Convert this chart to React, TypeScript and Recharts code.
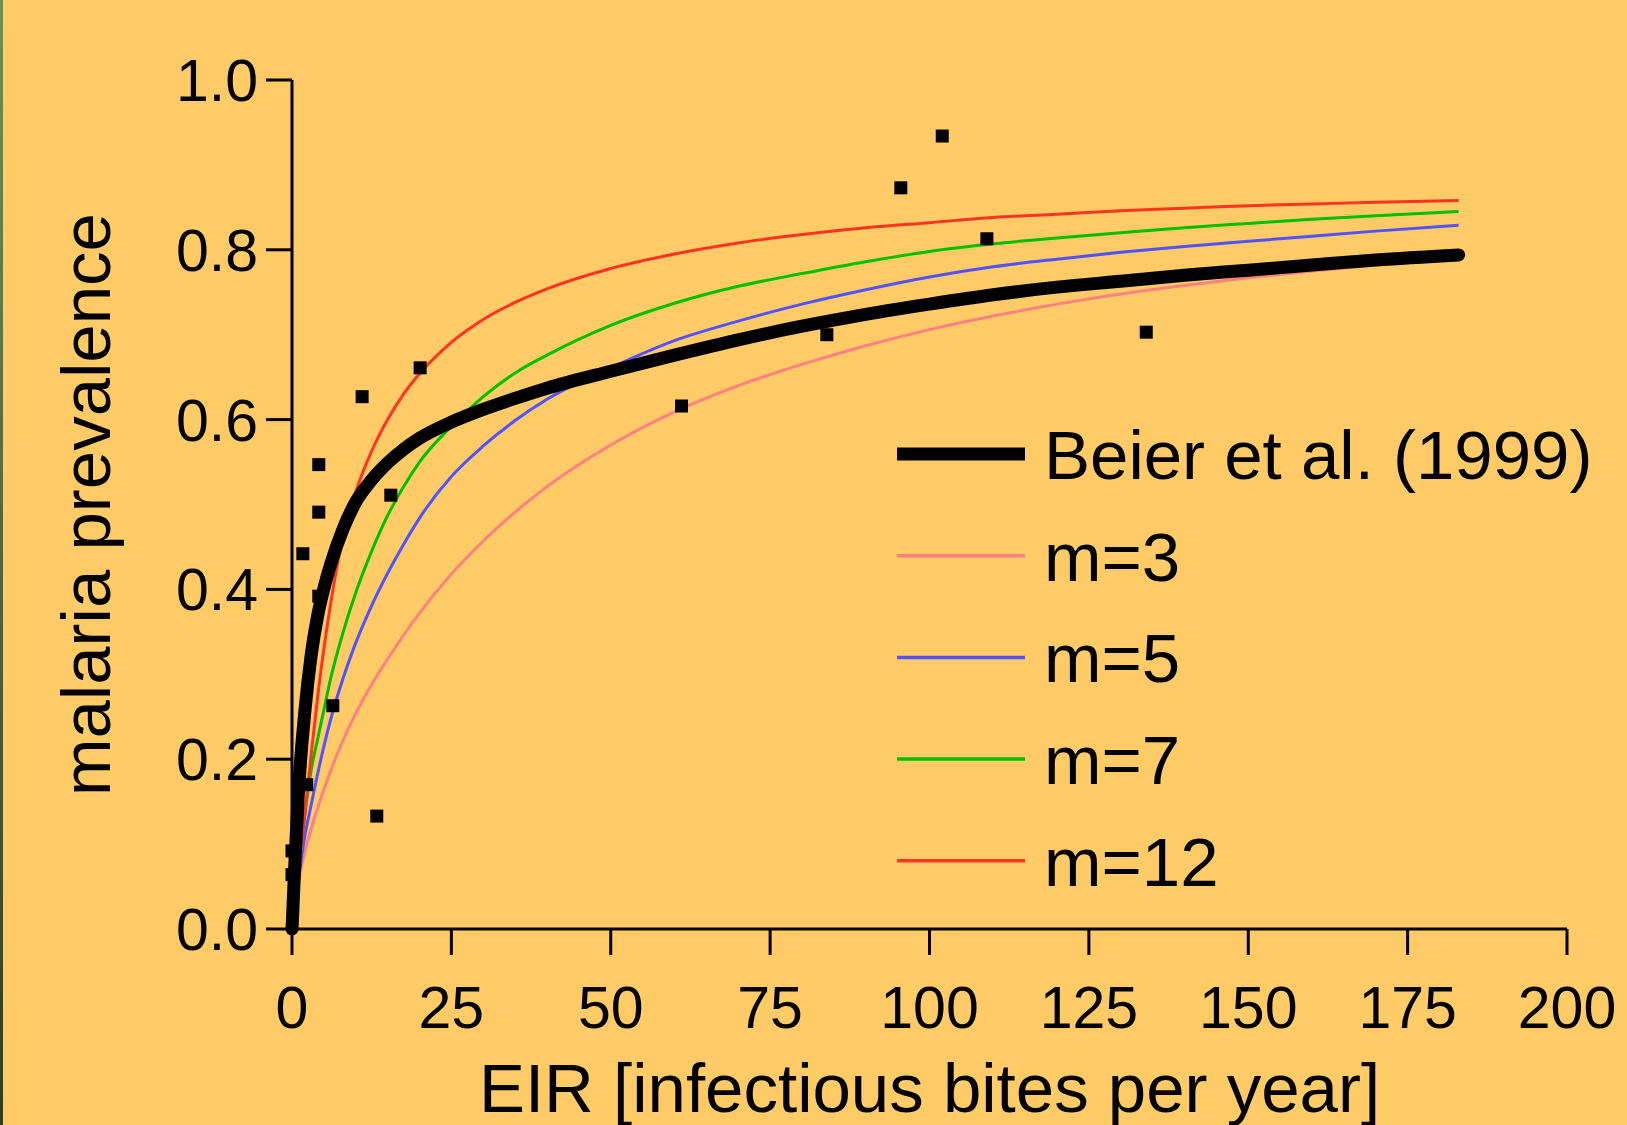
import React from 'react';
import { ComposedChart, Line, Scatter, XAxis, YAxis, Label } from 'recharts';

const FONT = '"Liberation Sans", Arial, Helvetica, sans-serif';
const BG = '#FECB66';

// EIR grid (infectious bites per year) for the curves
const eirGrid = [0, 0.5, 1, 2, 3, 4, 5, 6, 8, 10, 12.5, 15, 17.5, 20, 25, 30, 35, 40, 50, 60, 70, 80, 90, 100, 110, 120, 130, 140, 150, 160, 170, 183];

// Beier et al. (1999) fit
const beier = [0.0, 0.085, 0.16, 0.255, 0.322, 0.368, 0.401, 0.428, 0.471, 0.503, 0.529, 0.549, 0.565, 0.578, 0.597, 0.612, 0.625, 0.637, 0.657, 0.676, 0.694, 0.71, 0.724, 0.736, 0.747, 0.756, 0.763, 0.77, 0.776, 0.782, 0.788, 0.794];
// model curves
const m3 = [null, null, 0.058, 0.09, 0.118, 0.142, 0.164, 0.185, 0.222, 0.254, 0.288, 0.318, 0.346, 0.372, 0.418, 0.457, 0.491, 0.521, 0.57, 0.609, 0.64, 0.665, 0.687, 0.706, 0.722, 0.736, 0.748, 0.758, 0.767, 0.775, 0.782, 0.789];
const m5 = [null, null, 0.058, 0.109, 0.146, 0.182, 0.215, 0.245, 0.295, 0.337, 0.381, 0.419, 0.453, 0.484, 0.533, 0.569, 0.599, 0.624, 0.661, 0.693, 0.716, 0.736, 0.753, 0.768, 0.78, 0.789, 0.797, 0.804, 0.81, 0.816, 0.822, 0.829];
const m7 = [null, null, 0.065, 0.133, 0.187, 0.223, 0.258, 0.293, 0.349, 0.396, 0.445, 0.487, 0.521, 0.55, 0.592, 0.627, 0.655, 0.676, 0.711, 0.737, 0.757, 0.772, 0.786, 0.798, 0.807, 0.814, 0.82, 0.826, 0.831, 0.836, 0.84, 0.845];
const m12 = [null, null, 0.065, 0.135, 0.205, 0.272, 0.33, 0.38, 0.462, 0.515, 0.563, 0.6, 0.63, 0.654, 0.691, 0.718, 0.738, 0.754, 0.778, 0.795, 0.808, 0.818, 0.826, 0.832, 0.838, 0.842, 0.846, 0.849, 0.852, 0.854, 0.856, 0.858];

// observed field data
const obsEIR = [0, 0, 1.7, 2.3, 4.2, 4.2, 4.2, 6.4, 11, 13.3, 15.5, 20.1, 61.1, 83.9, 95.5, 102, 109, 134];
const obsPrev = [0.092, 0.064, 0.442, 0.17, 0.547, 0.491, 0.392, 0.263, 0.627, 0.133, 0.511, 0.661, 0.616, 0.7, 0.873, 0.934, 0.813, 0.703];

const xTicks = [0, 25, 50, 75, 100, 125, 150, 175, 200];
const yTicks = [0, 0.2, 0.4, 0.6, 0.8, 1.0];

const toSeries = (ys: (number | null)[]) =>
  eirGrid.map((x, i) => ({ x, y: ys[i] })).filter((d) => d.y !== null);

const series = [
  { key: 'm3', name: 'm=3', color: '#FF8080', width: 3, values: m3 },
  { key: 'm5', name: 'm=5', color: '#5252FF', width: 3, values: m5 },
  { key: 'm7', name: 'm=7', color: '#00C000', width: 3, values: m7 },
  { key: 'm12', name: 'm=12', color: '#FF3322', width: 3, values: m12 },
];
const beierSeries = { key: 'beier', name: 'Beier et al. (1999)', color: '#000000', width: 13, values: beier };

const legendItems = [beierSeries, ...series];

const obsData = obsEIR.map((x, i) => ({ x, y: obsPrev[i] }));

const SquareDot = (p: any) => (
  <rect x={p.cx - 6.5} y={p.cy - 6.5} width={13} height={13} fill="#000" />
);

export default function App() {
  const axisStyle = { stroke: '#000', strokeWidth: 3 };
  return (
    <div style={{ position: 'absolute', left: 0, top: 0, width: 1627, height: 1125, background: BG, overflow: 'hidden' }}>
      <div style={{ position: 'absolute', left: 0, top: 0, width: 3, height: 1125, background: 'linear-gradient(#6f8f58, #2f3d24)' }} />
      <ComposedChart width={1627} height={1125} margin={{ top: 80, right: 60, bottom: 0, left: 0 }}>
        <XAxis
          type="number"
          dataKey="x"
          domain={[0, 200]}
          ticks={xTicks}
          interval={0}
          height={196}
          tickSize={26}
          tickMargin={31}
          axisLine={axisStyle}
          tickLine={axisStyle}
          tick={{ fill: '#000', fontSize: 59, fontFamily: FONT }}
        >
          <Label
            value="EIR [infectious bites per year]"
            position="insideBottom"
            offset={13}
            style={{ fontSize: 69, fill: '#000', fontFamily: FONT }}
          />
        </XAxis>
        <YAxis
          type="number"
          dataKey="y"
          domain={[0, 1]}
          ticks={yTicks}
          interval={0}
          width={292}
          tickSize={26}
          tickMargin={8}
          tickFormatter={(v: number) => v.toFixed(1)}
          axisLine={axisStyle}
          tickLine={axisStyle}
          tick={{ fill: '#000', fontSize: 59, fontFamily: FONT }}
        >
          <Label
            value="malaria prevalence"
            angle={-90}
            position="insideLeft"
            offset={86}
            style={{ fontSize: 69, fill: '#000', fontFamily: FONT, textAnchor: 'middle' }}
          />
        </YAxis>
        {series.map((s) => (
          <Line
            key={s.key}
            data={toSeries(s.values)}
            dataKey="y"
            type="monotone"
            stroke={s.color}
            strokeWidth={s.width}
            dot={false}
            activeDot={false}
            isAnimationActive={false}
          />
        ))}
        <Line
          data={toSeries(beierSeries.values)}
          dataKey="y"
          type="monotone"
          stroke={beierSeries.color}
          strokeWidth={beierSeries.width}
          strokeLinecap="round"
          strokeLinejoin="round"
          dot={false}
          activeDot={false}
          isAnimationActive={false}
        />
        <Scatter data={obsData} dataKey="y" shape={SquareDot} isAnimationActive={false} />
      </ComposedChart>
      <svg
        width={1627}
        height={1125}
        style={{ position: 'absolute', left: 0, top: 0, pointerEvents: 'none' }}
      >
        {legendItems.map((it, i) => {
          const cy = 454 + i * 101.7;
          return (
            <g key={it.key}>
              <line x1={897} x2={1025} y1={cy} y2={cy} stroke={it.color} strokeWidth={it.width === 13 ? 13 : 3.5} />
              <text x={1044} y={cy + 25} fontSize={69} fontFamily={FONT} fill="#000">
                {it.name}
              </text>
            </g>
          );
        })}
      </svg>
    </div>
  );
}
